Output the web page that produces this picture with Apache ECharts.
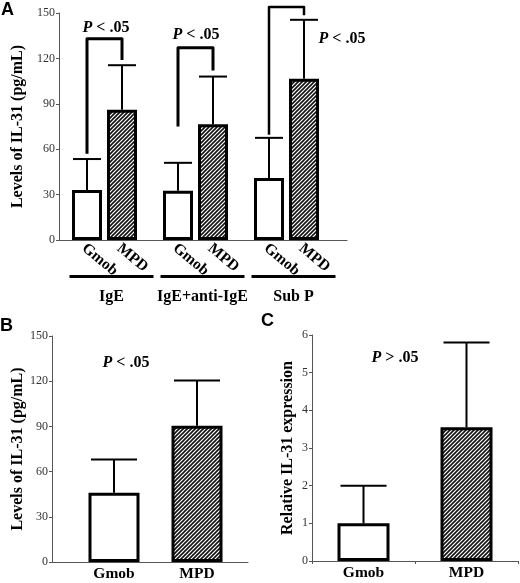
<!DOCTYPE html>
<html><head><meta charset="utf-8">
<script src="https://cdn.jsdelivr.net/npm/echarts@6/dist/echarts.min.js"></script>
<style>html,body{margin:0;padding:0;background:#fff}#c{width:520px;height:583px}</style>
</head><body><div id="c"></div>
<script>
// ---------------- data ----------------
const groupsA = ['IgE', 'IgE+anti-IgE', 'Sub P'];
const seriesNames = ['Gmob', 'MPD'];
const gmobA = [33, 32.5, 41];
const gmobSdA = [20.5, 18.5, 26.5];
const mpdA = [86, 76.5, 106.5];
const mpdSdA = [29.5, 31.5, 39];
const bracketTopA = [133, 127, 154];
const bracketLeftEndA = [57, 75, 69.5];
const bracketRightEndA = [119, 112, 148.5];
const pLabelsA = ['P < .05', 'P < .05', 'P < .05'];
const yTicksAB = [0, 30, 60, 90, 120, 150];

const catsB = ['Gmob', 'MPD'];
const valuesB = [46, 90.5];
const sdB = [22, 30];
const pLabelB = 'P < .05';

const catsC = ['Gmob', 'MPD'];
const valuesC = [1.0, 3.55];
const sdC = [1.0, 2.25];
const yTicksC = [0, 1, 2, 3, 4, 5, 6];
const pLabelC = 'P > .05';

const yNameAB = 'Levels of IL-31 (pg/mL)';
const yNameC = 'Relative IL-31 expression';
// --------------------------------------

const SERIF = '"Liberation Serif", "Times New Roman", serif';
const SANS = '"Liberation Sans", Arial, sans-serif';
const AXIS_COLOR = '#555';

function hatch() {
  const c = document.createElement('canvas');
  c.width = 4; c.height = 4;
  const g = c.getContext('2d');
  g.fillStyle = '#fff'; g.fillRect(0, 0, 4, 4);
  g.strokeStyle = '#111'; g.lineWidth = 1.6;
  g.beginPath();
  g.moveTo(0, 4); g.lineTo(4, 0);
  g.moveTo(-1, 1); g.lineTo(1, -1);
  g.moveTo(3, 5); g.lineTo(5, 3);
  g.stroke();
  return c;
}
const hatchFill = { image: hatch(), repeat: 'repeat' };
const whiteStyle = { color: '#fff', borderColor: '#000', borderWidth: 3 };
const hatchStyle = { color: hatchFill, borderColor: '#000', borderWidth: 3 };

function errorRender(offset, capW) {
  return function (params, api) {
    const c = api.value(0), m = api.value(1), t = api.value(2);
    const p0 = api.coord([c, m]);
    const p1 = api.coord([c, t]);
    const x = p0[0] + offset;
    return {
      type: 'group', children: [
        { type: 'line', shape: { x1: x, y1: p0[1], x2: x, y2: p1[1] }, style: { stroke: '#000', lineWidth: 2 } },
        { type: 'line', shape: { x1: x - capW / 2, y1: p1[1], x2: x + capW / 2, y2: p1[1] }, style: { stroke: '#000', lineWidth: 2 } }
      ]
    };
  };
}

const BW_A = 30, GAP_A = 5, OFF_A = (BW_A + GAP_A) / 2;

function bracketRender(params, api) {
  const i = api.value(0);
  const top = api.coord([i, api.value(1)]);
  const lEnd = api.coord([i, api.value(2)]);
  const rEnd = api.coord([i, api.value(3)]);
  const lx = top[0] - OFF_A, rx = top[0] + OFF_A;
  return {
    type: 'polyline',
    shape: { points: [[lx, lEnd[1]], [lx, top[1]], [rx, top[1]], [rx, rEnd[1]]] },
    style: { stroke: '#000', lineWidth: i === 2 ? 2.5 : 3, fill: null, lineJoin: 'round' }
  };
}

function yAxisCfg(grid, max, interval, name, nameGap, offset) {
  return {
    type: 'value', gridIndex: grid, min: 0, max: max, interval: interval, offset: offset || 0,
    name: name, nameLocation: 'middle', nameGap: nameGap, nameRotate: 90,
    nameTextStyle: { fontFamily: SERIF, fontWeight: 'bold', fontSize: 16, color: '#000' },
    axisLine: { show: true, lineStyle: { color: AXIS_COLOR, width: 1 } },
    axisTick: { show: true, length: 3, lineStyle: { color: AXIS_COLOR } },
    axisLabel: { fontFamily: SERIF, fontSize: 12, color: '#333', margin: 4 },
    splitLine: { show: false }
  };
}
function lineOnlyX(grid) {
  return {
    type: 'category', gridIndex: grid, data: [''],
    axisLine: { show: true, lineStyle: { color: AXIS_COLOR, width: 1 } },
    axisTick: { show: false }, axisLabel: { show: false }, splitLine: { show: false }
  };
}
function hiddenY(grid, max) {
  return { type: 'value', gridIndex: grid, min: 0, max: max, show: false };
}
function pRich(s) { return '{i|' + s[0] + '}{n|' + s.slice(1) + '}'; }
const pRichStyle = {
  i: { fontFamily: SERIF, fontWeight: 'bold', fontStyle: 'italic', fontSize: 16, fill: '#000', color: '#000' },
  n: { fontFamily: SERIF, fontWeight: 'bold', fontSize: 16, fill: '#000', color: '#000' }
};
function pText(s, x, y) {
  return { type: 'text', x: x, y: y, style: { text: pRich(s), rich: pRichStyle, align: 'center', verticalAlign: 'middle' } };
}
function letter(t, x, y) {
  return { type: 'text', x: x, y: y, style: { text: t, font: 'bold 18px ' + SANS, fill: '#000' } };
}

const barLabelA = {
  show: true, position: 'bottom', distance: 9, offset: [-4, 0], rotate: -40,
  align: 'left', verticalAlign: 'middle',
  formatter: '{a}', fontFamily: SERIF, fontWeight: 'bold', fontSize: 15.5, color: '#000'
};

const chart = echarts.init(document.getElementById('c'), null, { renderer: 'canvas' });
chart.setOption({
  animation: false,
  backgroundColor: '#fff',
  grid: [
    { left: 59, top: 13, width: 273, height: 227 },   // A
    { left: 72.5, top: 336, width: 166, height: 226 }, // B
    { left: 312, top: 335, width: 206, height: 226 },  // C
    { left: 59, top: 13, width: 288, height: 227 },    // A axis line
    { left: 52, top: 336, width: 196, height: 226 }    // B axis line
  ],
  xAxis: [
    {
      type: 'category', gridIndex: 0, data: groupsA,
      axisLine: { show: false }, axisTick: { show: false },
      axisLabel: {
        interval: 0, margin: 35, padding: [0, 0, 0, 14],
        formatter: v => '{u| }\n{t|' + v + '}',
        rich: {
          u: { width: 84, height: 3, lineHeight: 3, fontSize: 1, backgroundColor: '#000' },
          t: { fontFamily: SERIF, fontWeight: 'bold', fontSize: 16, lineHeight: 38, color: '#000' }
        }
      }
    },
    {
      type: 'category', gridIndex: 1, data: catsB,
      axisLine: { show: false }, axisTick: { show: false },
      axisLabel: { margin: 4, fontFamily: SERIF, fontWeight: 'bold', fontSize: 15.5, color: '#000' }
    },
    {
      type: 'category', gridIndex: 2, data: catsC,
      axisLine: { show: true, lineStyle: { color: AXIS_COLOR, width: 1 } },
      axisTick: { show: true, length: 3, lineStyle: { color: AXIS_COLOR } },
      axisLabel: { margin: 4, fontFamily: SERIF, fontWeight: 'bold', fontSize: 15.5, color: '#000' }
    },
    lineOnlyX(3),
    lineOnlyX(4)
  ],
  yAxis: [
    yAxisCfg(0, 150, 30, yNameAB, 26),
    yAxisCfg(1, 150, 30, yNameAB, 19, 20.5),
    yAxisCfg(2, 6, 1, yNameC, 16),
    hiddenY(3, 150),
    hiddenY(4, 150)
  ],
  series: [
    // Panel A
    { name: seriesNames[0], type: 'bar', xAxisIndex: 0, yAxisIndex: 0, data: gmobA, barWidth: BW_A, barGap: (GAP_A / BW_A * 100) + '%', itemStyle: whiteStyle, label: barLabelA },
    { name: seriesNames[1], type: 'bar', xAxisIndex: 0, yAxisIndex: 0, data: mpdA, barWidth: BW_A, barGap: (GAP_A / BW_A * 100) + '%', itemStyle: hatchStyle, label: barLabelA },
    { type: 'custom', xAxisIndex: 0, yAxisIndex: 0, clip: false, z: 5, renderItem: errorRender(-OFF_A, 28),
      data: gmobA.map((v, i) => [i, v, v + gmobSdA[i]]) },
    { type: 'custom', xAxisIndex: 0, yAxisIndex: 0, clip: false, z: 5, renderItem: errorRender(OFF_A, 28),
      data: mpdA.map((v, i) => [i, v, v + mpdSdA[i]]) },
    { type: 'custom', xAxisIndex: 0, yAxisIndex: 0, clip: false, z: 5, renderItem: bracketRender,
      data: bracketTopA.map((v, i) => [i, v, bracketLeftEndA[i], bracketRightEndA[i]]) },
    // Panel B
    { type: 'bar', xAxisIndex: 1, yAxisIndex: 1, barWidth: 51,
      data: valuesB.map((v, i) => ({ value: v, itemStyle: i === 0 ? whiteStyle : hatchStyle })) },
    { type: 'custom', xAxisIndex: 1, yAxisIndex: 1, clip: false, z: 5, renderItem: errorRender(0, 46),
      data: valuesB.map((v, i) => [i, v, v + sdB[i]]) },
    // Panel C
    { type: 'bar', xAxisIndex: 2, yAxisIndex: 2, barWidth: 52,
      data: valuesC.map((v, i) => ({ value: v, itemStyle: i === 0 ? whiteStyle : hatchStyle })) },
    { type: 'custom', xAxisIndex: 2, yAxisIndex: 2, clip: false, z: 5, renderItem: errorRender(0, 46),
      data: valuesC.map((v, i) => [i, v, v + sdC[i]]) }
  ],
  graphic: [
    letter('A', 1, 1),
    letter('B', 0, 317),
    letter('C', 261, 312),
    pText(pLabelsA[0], 106, 28),
    pText(pLabelsA[1], 196, 35),
    pText(pLabelsA[2], 342, 39),
    pText(pLabelB, 126, 363),
    pText(pLabelC, 395, 358)
  ]
});
</script></body></html>
